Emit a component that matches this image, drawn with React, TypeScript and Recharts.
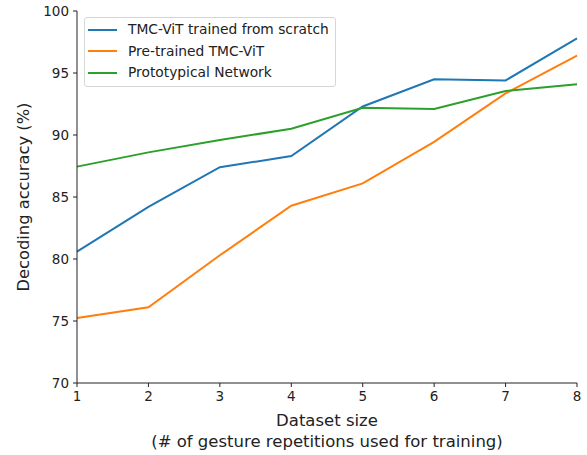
import { LineChart, Line, XAxis, YAxis } from 'recharts'

const sizes = [1, 2, 3, 4, 5, 6, 7, 8]
const scratch = [80.6, 84.2, 87.4, 88.3, 92.3, 94.5, 94.4, 97.8]
const pretrained = [75.25, 76.1, 80.3, 84.3, 86.1, 89.45, 93.35, 96.4]
const prototypical = [87.45, 88.6, 89.6, 90.5, 92.2, 92.1, 93.55, 94.1]
const yTicks = [70, 75, 80, 85, 90, 95, 100]

const seriesNames = ['TMC-ViT trained from scratch', 'Pre-trained TMC-ViT', 'Prototypical Network']
const colors = ['#1f77b4', '#ff7f0e', '#2ca02c']

const data = sizes.map((s, i) => ({
  size: s,
  scratch: scratch[i],
  pretrained: pretrained[i],
  proto: prototypical[i]
}))

const font = 'DejaVu Sans, sans-serif'
const ink = '#222'

function LegendBox() {
  return (
    <div
      style={{
        position: 'absolute',
        left: 84,
        top: 17,
        border: '1px solid #d6d6d6',
        borderRadius: 3,
        background: 'rgba(255,255,255,0.8)',
        padding: '1px 6px 2px 3px',
        fontFamily: font,
        fontSize: 13.8,
        color: ink,
        lineHeight: '21.5px'
      }}
    >
      {seriesNames.map((n, i) => (
        <div key={n} style={{ display: 'flex', alignItems: 'center' }}>
          <span
            style={{
              display: 'inline-block',
              width: 29,
              height: 2,
              background: colors[i],
              marginRight: 11
            }}
          />
          {n}
        </div>
      ))}
    </div>
  )
}

function XLabel(props: any) {
  const { viewBox } = props
  const cx = viewBox.x + viewBox.width / 2
  const y = viewBox.y
  return (
    <g fontFamily={font} fontSize={16.5} fill={ink}>
      <text x={cx} y={y + 43} textAnchor="middle">Dataset size</text>
      <text x={cx} y={y + 64} textAnchor="middle">(# of gesture repetitions used for training)</text>
    </g>
  )
}

export default function App() {
  return (
    <div style={{ position: 'absolute', left: 0, top: 0, background: '#fff' }}>
      <LineChart
        width={587}
        height={455}
        data={data}
        margin={{ top: 11, right: 10, bottom: 7, left: 10 }}
      >
        <XAxis
          dataKey="size"
          type="number"
          domain={[1, 8]}
          ticks={sizes}
          stroke={ink}
          tickSize={4}
          tickMargin={4}
          height={65}
          tick={{ fill: ink, fontFamily: font, fontSize: 13.5 }}
          label={<XLabel />}
        />
        <XAxis
          xAxisId="top"
          orientation="top"
          dataKey="size"
          type="number"
          domain={[1, 8]}
          height={0}
          tick={false}
          tickLine={false}
          stroke={ink}
        />
        <YAxis
          type="number"
          domain={[70, 100]}
          ticks={yTicks}
          stroke={ink}
          tickSize={4}
          tickMargin={4}
          width={67}
          tick={{ fill: ink, fontFamily: font, fontSize: 13.5 }}
          label={{
            value: 'Decoding accuracy (%)',
            angle: -90,
            position: 'insideLeft',
            offset: 13,
            style: { textAnchor: 'middle', fill: ink, fontFamily: font, fontSize: 16.3 }
          }}
        />
        <YAxis
          yAxisId="right"
          orientation="right"
          domain={[70, 100]}
          width={0}
          tick={false}
          tickLine={false}
          stroke={ink}
        />
        <Line dataKey="scratch" name={seriesNames[0]} stroke={colors[0]} strokeWidth={2} dot={false} isAnimationActive={false} />
        <Line dataKey="pretrained" name={seriesNames[1]} stroke={colors[1]} strokeWidth={2} dot={false} isAnimationActive={false} />
        <Line dataKey="proto" name={seriesNames[2]} stroke={colors[2]} strokeWidth={2} dot={false} isAnimationActive={false} />
      </LineChart>
      <LegendBox />
    </div>
  )
}
